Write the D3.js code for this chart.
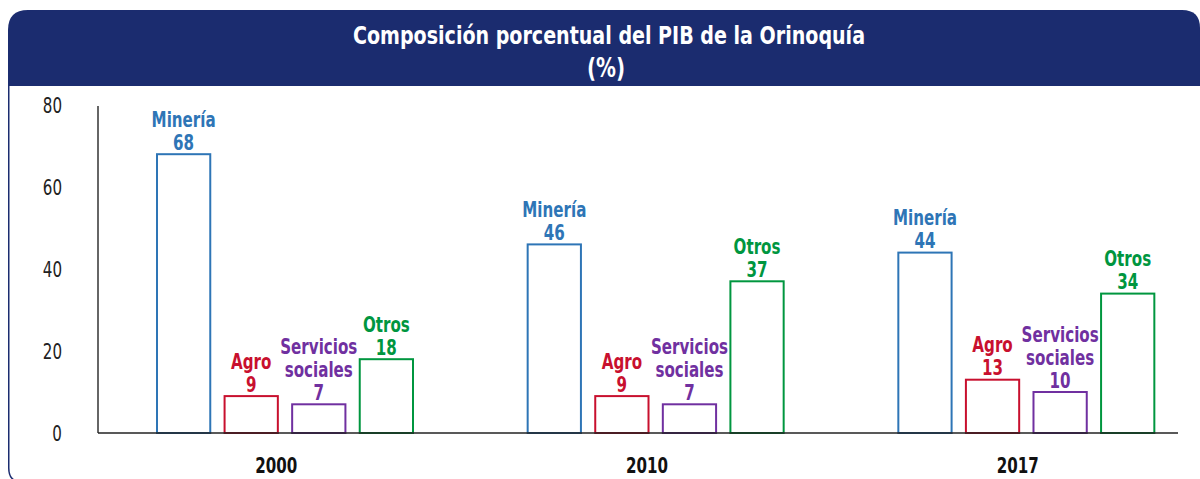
<!DOCTYPE html>
<meta charset="utf-8">
<style>
body { margin: 0; padding: 0; background: #fff; }
svg { display: block; font-family: "DejaVu Sans Condensed", "DejaVu Sans", sans-serif; }
</style>
<body>
<svg id="chart" width="1200" height="479"></svg>
<script src="https://cdn.jsdelivr.net/npm/d3@7"></script>
<script>

// data
var years = ["2000", "2010", "2017"];
var sectors = ["Minería", "Agro", "Servicios sociales", "Otros"];
var mineria = [68, 46, 44];
var agro = [9, 9, 13];
var servicios = [7, 7, 10];
var otros = [18, 37, 34];
var yTicks = [0, 20, 40, 60, 80];

var colors = ["#2e75b6", "#c8102e", "#7030a0", "#00963f"];
var labelLines = [["Minería"], ["Agro"], ["Servicios", "sociales"], ["Otros"]];

var rows = [];
years.forEach(function(y, i) {
  [mineria, agro, servicios, otros].forEach(function(s, j) {
    rows.push({ year: y, sector: sectors[j], k: j, value: s[i] });
  });
});

var svg = d3.select("#chart");
var navy = "#1b2c6f";
var squeeze = 0.82; // narrow the glyphs a bit, source font is narrower

function at(x, y) { return "translate(" + x + "," + y + ") scale(" + squeeze + ",1)"; }

// header + panel border
svg.append("path")
  .attr("d", "M8,86 V30 Q8,10 28,10 H1182 Q1200,10 1200,28 V86 Z")
  .attr("fill", navy);
svg.append("path")
  .attr("d", "M8.75,86 V468 Q8.75,477 14,480")
  .attr("fill", "none")
  .attr("stroke", navy)
  .attr("stroke-width", 1.5);

svg.append("text")
  .attr("x", 609).attr("y", 44)
  .attr("text-anchor", "middle")
  .attr("fill", "#fff")
  .attr("font-weight", "bold")
  .attr("font-size", 25)
  .attr("textLength", 512)
  .attr("lengthAdjust", "spacingAndGlyphs")
  .text("Composición porcentual del PIB de la Orinoquía");
svg.append("text")
  .attr("transform", at(606, 77))
  .attr("text-anchor", "middle")
  .attr("fill", "#fff")
  .attr("font-weight", "bold")
  .attr("font-size", 27)
  .text("(%)");

// scales
var x0 = d3.scaleBand().domain(years).range([98, 1210]).padding(0);
var x1 = d3.scaleBand().domain(d3.range(4)).range([59, 315]).paddingInner(14.3 / 67.5).paddingOuter(0);
var y = d3.scaleLinear().domain([0, 80]).range([433, 105]);

// y tick labels
svg.append("g").selectAll("text")
  .data(yTicks)
  .join("text")
  .attr("transform", function(d) { return at(62, y(d) + 7.5); })
  .attr("text-anchor", "end")
  .attr("font-size", 20.5)
  .attr("fill", "#222")
  .text(function(d) { return d; });

// bars
svg.append("g").selectAll("rect")
  .data(rows)
  .join("rect")
  .attr("x", function(d) { return x0(d.year) + x1(d.k); })
  .attr("y", function(d) { return y(d.value); })
  .attr("width", x1.bandwidth())
  .attr("height", function(d) { return y(0) - y(d.value); })
  .attr("fill", "#fff")
  .attr("stroke", function(d) { return colors[d.k]; })
  .attr("stroke-width", 2);

// axes lines
svg.append("line")
  .attr("x1", 98).attr("x2", 98).attr("y1", 106).attr("y2", 433)
  .attr("stroke", "#333").attr("stroke-width", 1.5);
svg.append("line")
  .attr("x1", 98).attr("x2", 1178).attr("y1", 433).attr("y2", 433)
  .attr("stroke", "#222").attr("stroke-width", 1.5);

// bar labels
var lab = svg.append("g").selectAll("text")
  .data(rows)
  .join("text")
  .attr("text-anchor", "middle")
  .attr("font-weight", "bold")
  .attr("font-size", 20.5)
  .attr("fill", function(d) { return colors[d.k]; })
  .attr("transform", function(d) {
    var cx = x0(d.year) + x1(d.k) + x1.bandwidth() / 2;
    return at(cx, y(d.value) - 4.5);
  });
lab.each(function(d) {
  var lines = labelLines[d.k].concat([String(d.value)]);
  var n = lines.length;
  var g = d3.select(this);
  lines.forEach(function(l, i) {
    g.append("tspan")
      .attr("x", 0)
      .attr("y", -(n - 1 - i) * 23)
      .text(l);
  });
});

// year labels
svg.append("g").selectAll("text")
  .data(years)
  .join("text")
  .attr("transform", function(d) { return at(x0(d) + x0.bandwidth() / 2 - 7, 473); })
  .attr("text-anchor", "middle")
  .attr("font-weight", "bold")
  .attr("font-size", 20.5)
  .attr("fill", "#111")
  .text(function(d) { return d; });

</script>
</body>
